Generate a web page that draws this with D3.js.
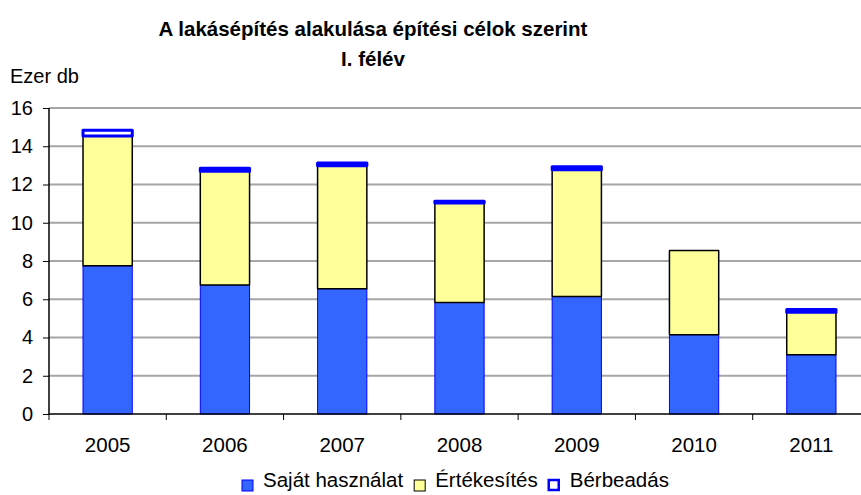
<!DOCTYPE html>
<html>
<head>
<meta charset="utf-8">
<script src="https://cdn.jsdelivr.net/npm/d3@7"></script>
<style>
  body { margin: 0; background: #fff; }
  svg text { font-family: "Liberation Sans", Arial, sans-serif; fill: #000; }
</style>
</head>
<body>
<svg id="chart"></svg>
<script>
var width = 861,
    height = 495
var plot = { left: 49, right: 870, top: 108, bottom: 414 }

// data (ezer db)
var years = ["2005", "2006", "2007", "2008", "2009", "2010", "2011"]
var sajat = [7.75, 6.75, 6.55, 5.83, 6.14, 4.15, 3.1]
var ertekesites = [6.78, 5.94, 6.43, 5.2, 6.63, 4.4, 2.22]
var berbeadas = [0.31, 0.16, 0.15, 0.1, 0.16, 0, 0.14]
var seriesNames = ["Saját használat", "Értékesítés", "Bérbeadás"]
var yTicks = [0, 2, 4, 6, 8, 10, 12, 14, 16]

var styles = [
    { fill: "#3366ff", stroke: "#0000ff", sw: 1 },
    { fill: "#ffff99", stroke: "#000000", sw: 1.5 },
    { fill: "#ffffff", stroke: "#0000ff", sw: 3 }
]

var rows = years.map(function(y, i) {
    return { year: y, s0: sajat[i], s1: ertekesites[i], s2: berbeadas[i] }
})
var stack = d3.stack().keys(["s0", "s1", "s2"])(rows)

var svg = d3.select("#chart").attr("width", width).attr("height", height)

var x = d3.scaleBand().domain(years)
    .range([plot.left, plot.right])
    .paddingInner(0.58).paddingOuter(0.29)
var y = d3.scaleLinear().domain([0, 16]).range([plot.bottom, plot.top])

// title
var title = svg.append("text")
    .attr("text-anchor", "middle")
    .style("font-weight", "bold").style("font-size", "20.5px")
title.append("tspan").attr("x", 373).attr("y", 36).text("A lakásépítés alakulása építési célok szerint")
title.append("tspan").attr("x", 373).attr("y", 66).text("I. félév")

svg.append("text").attr("x", 10).attr("y", 83)
    .style("font-size", "20px").text("Ezer db")

// gridlines
svg.append("g").selectAll("line")
    .data(yTicks.filter(function(d) { return d > 0 }))
    .enter().append("line")
    .attr("x1", plot.left).attr("x2", plot.right)
    .attr("y1", function(d) { return y(d) }).attr("y2", function(d) { return y(d) })
    .attr("stroke", "#a6a6a6").attr("stroke-width", 2)

// bars
stack.forEach(function(layer, k) {
    var st = styles[k]
    svg.append("g").selectAll("rect")
        .data(layer.filter(function(d) { return d[1] - d[0] > 0 }))
        .enter().append("rect")
        .attr("x", function(d) { return x(d.data.year) })
        .attr("width", x.bandwidth())
        .attr("y", function(d) { return y(d[1]) })
        .attr("height", function(d) { return y(d[0]) - y(d[1]) })
        .attr("fill", st.fill)
        .attr("stroke", st.stroke)
        .attr("stroke-width", st.sw)
        .attr("stroke-linejoin", "round")
})

// y axis
var yAxis = svg.append("g")
    .attr("transform", "translate(" + plot.left + ",0)")
    .call(d3.axisLeft(y).tickValues(yTicks).tickSize(6).tickPadding(10).tickFormat(d3.format("d")))
yAxis.select(".domain").attr("stroke", "#000").attr("stroke-width", 1.5)
    .attr("d", "M0," + plot.top + "V" + plot.bottom)
yAxis.selectAll(".tick line").attr("stroke", "#000")
yAxis.selectAll("text").style("font-size", "20px")
    .style("font-family", "Liberation Sans, Arial, sans-serif")

// x axis
var step = x.step()
var xg = svg.append("g")
xg.append("line")
    .attr("x1", plot.left).attr("x2", plot.right)
    .attr("y1", plot.bottom).attr("y2", plot.bottom)
    .attr("stroke", "#000").attr("stroke-width", 1.5)
xg.selectAll(".xtick")
    .data(d3.range(years.length + 1))
    .enter().append("line")
    .attr("x1", function(i) { return plot.left + i * step })
    .attr("x2", function(i) { return plot.left + i * step })
    .attr("y1", plot.bottom).attr("y2", plot.bottom + 6)
    .attr("stroke", "#000")
xg.selectAll(".xlabel")
    .data(years)
    .enter().append("text")
    .attr("x", function(d) { return x(d) + x.bandwidth() / 2 })
    .attr("y", 452)
    .attr("text-anchor", "middle")
    .style("font-size", "20.5px")
    .text(function(d) { return d })

// legend
var lg = svg.append("g")
var lx = 242
seriesNames.forEach(function(name, k) {
    var st = styles[k]
    lg.append("rect")
        .attr("x", lx).attr("y", 480)
        .attr("width", k == 2 ? 10 : 11).attr("height", k == 2 ? 10 : 11)
        .attr("fill", st.fill).attr("stroke", st.stroke)
        .attr("stroke-width", k == 2 ? 2.5 : 1)
    var t = lg.append("text")
        .attr("x", lx + 21).attr("y", 487)
        .style("font-size", "20.5px")
        .text(name)
    lx = lx + 21 + t.node().getComputedTextLength() + 11
})
</script>
</body>
</html>
